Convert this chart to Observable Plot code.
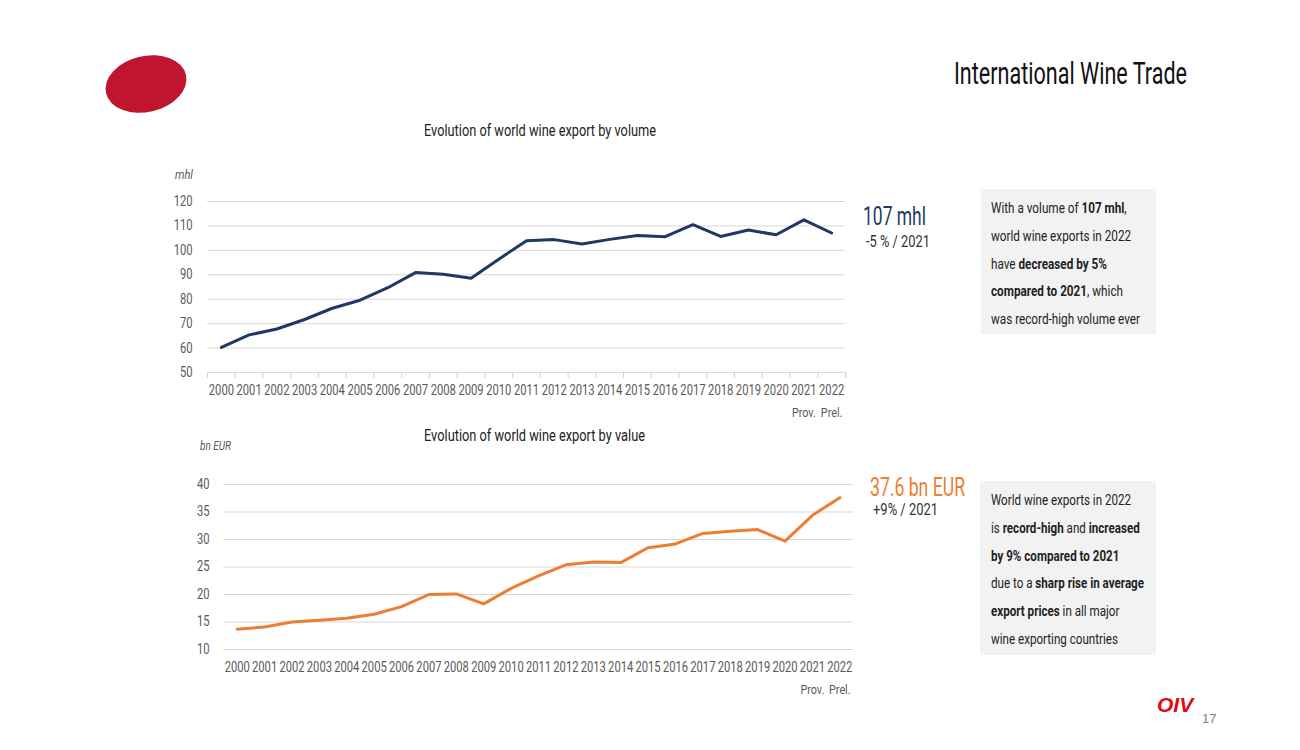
<!DOCTYPE html>
<html><head><meta charset="utf-8">
<script src="https://cdn.jsdelivr.net/npm/d3@7"></script>
<script src="https://cdn.jsdelivr.net/npm/@observablehq/plot@0.6"></script>
<style>
body{margin:0;width:1300px;height:750px;position:relative;background:#fff;overflow:hidden;
 font-family:Roboto,"Noto Sans",sans-serif;color:#222;}
.abs{position:absolute;white-space:nowrap;}
.fit{display:inline-block;transform-origin:left center;}
.unit{font-style:italic;color:#595959;}
.boxbg{position:absolute;background:#f2f2f2;}
.boxtxt{position:absolute;font-size:15px;line-height:27.75px;color:#222;white-space:nowrap;transform-origin:left top;}
.boxtxt b{font-weight:bold;}
#topchart,#botchart{position:absolute;left:0;}
</style></head><body>
<svg class="abs" style="left:0;top:0" width="220" height="140"><ellipse cx="146" cy="84" rx="41" ry="28" transform="rotate(-13 146 84)" fill="#c0152f"/></svg>
<div class="abs fit" data-w="233" style="left:954px;top:73px;font-size:31px;color:#111;">International Wine Trade</div>
<div class="abs fit" data-w="232" style="left:424px;top:130px;font-size:16px;">Evolution of world wine export by volume</div>
<div class="abs fit" data-w="221" style="left:424px;top:435px;font-size:16px;">Evolution of world wine export by value</div>
<div class="abs fit unit" data-w="18" style="left:175px;top:174px;font-size:13px;">mhl</div>
<div class="abs fit unit" data-w="31" style="left:200px;top:446px;font-size:12px;">bn EUR</div>
<div id="topchart" style="top:150px"></div>
<div id="botchart" style="top:460px"></div>
<div class="abs fit" data-w="63" style="left:863px;top:216px;font-size:26px;color:#1f3864;">107 mhl</div>
<div class="abs fit" data-w="64" style="left:866px;top:241px;font-size:16px;color:#333;">-5 % / 2021</div>
<div class="abs fit" data-w="95" style="left:870px;top:487px;font-size:26px;color:#ed7d31;">37.6 bn EUR</div>
<div class="abs fit" data-w="65" style="left:873px;top:509px;font-size:16px;color:#333;">+9% / 2021</div>
<div class="boxbg" style="left:981px;top:189px;width:175px;height:145px;"></div>
<div class="boxtxt" data-w="149" style="left:991px;top:195px;"><div>With a volume of <b>107 mhl</b>,</div><div>world wine exports in 2022</div><div>have <b>decreased by 5%</b></div><div><b>compared to 2021</b>, which</div><div>was record-high volume ever</div></div>
<div class="boxbg" style="left:980px;top:481px;width:176px;height:174px;"></div>
<div class="boxtxt" data-w="153" style="left:991px;top:487px;"><div>World wine exports in 2022</div><div>is <b>record-high</b> and <b>increased</b></div><div><b>by 9% compared to 2021</b></div><div>due to a <b>sharp rise in average</b></div><div><b>export prices</b> in all major</div><div>wine exporting countries</div></div>
<div class="abs" style="left:1157px;top:705px;transform:translateY(-50%);font-family:'Liberation Sans',sans-serif;font-weight:bold;font-style:italic;font-size:21px;color:#e30613;">OIV</div>
<div class="abs" style="left:1202px;top:718px;transform:translateY(-50%);font-family:'Liberation Sans',sans-serif;font-size:13px;color:#7f7f7f;">17</div>
<script>
const years = [2000,2001,2002,2003,2004,2005,2006,2007,2008,2009,2010,2011,2012,2013,2014,2015,2016,2017,2018,2019,2020,2021,2022];
const volume = [60.3,65.4,67.8,71.7,76.3,79.6,84.7,90.9,90.2,88.6,96.4,103.9,104.4,102.6,104.5,106.1,105.6,110.5,105.7,108.3,106.4,112.5,107.1];
const value = [13.7,14.1,15.0,15.3,15.7,16.4,17.8,20.0,20.1,18.3,21.1,23.4,25.4,25.9,25.8,28.5,29.2,31.1,31.5,31.8,29.7,34.4,37.6];
const volumeTicks = [50,60,70,80,90,100,110,120];
const valueTicks = [10,15,20,25,30,35,40];
const provYears = [2021,2022];
const provLabels = ["Prov.","Prel."];

const FONT = 'Roboto, "Noto Sans", sans-serif';
const NARROW = 0.8;
const boundaries = years.map(y => y - 0.5).concat([years[years.length-1] + 0.5]);
const xDomain = [years[0] - 0.5, years[years.length-1] + 0.5];

function chart({data, ticks, yDomain, color, width, height, ml, mr, mt, mb, yPad, withTicks}) {
  const rows = years.map((y, i) => ({year: y, v: data[i]}));
  const marks = [
    Plot.gridY(ticks, {stroke: "#d9d9d9", strokeOpacity: 1, strokeWidth: 1}),
    Plot.axisY(ticks, {tickSize: 0, tickPadding: yPad, label: null, fontSize: 14, tickFormat: d => String(d)}),
  ];
  if (withTicks) marks.push(Plot.axisX(boundaries, {tickSize: 6, tickFormat: () => "", stroke: "#d0d0d0", strokeOpacity: 1, label: null}));
  marks.push(
    Plot.axisX(years, {tickSize: 0, tickPadding: 13, tickFormat: d => String(d), label: null, fontSize: 14}),
    Plot.text(provYears, {x: d => d, y: () => yDomain[0], text: (d, i) => provLabels[i], dy: 40, fontSize: 13.5, fill: "#595959"}),
    Plot.line(rows, {x: "year", y: "v", stroke: color, strokeWidth: 3, strokeLinejoin: "round", strokeLinecap: "round"})
  );
  const svg = Plot.plot({
    width, height, marginLeft: ml, marginRight: mr, marginTop: mt, marginBottom: mb,
    style: {fontFamily: FONT, fontSize: "14px", color: "#595959", background: "transparent"},
    x: {domain: xDomain},
    y: {domain: yDomain},
    marks
  });
  // narrow the glyphs horizontally around each text's own anchor point
  svg.querySelectorAll("text").forEach(t => {
    let x = parseFloat(t.getAttribute("x"));
    if (!isFinite(x)) x = 0;
    const tr = t.getAttribute("transform") || "";
    t.setAttribute("transform", `${tr} translate(${x},0) scale(${NARROW},1) translate(${-x},0)`.trim());
  });
  return svg;
}

document.getElementById("topchart").append(chart({
  data: volume, ticks: volumeTicks, yDomain: [50, 120], color: "#1f3864",
  width: 870, height: 280, ml: 207, mr: 25, mt: 51, mb: 58, yPad: 15, withTicks: true
}));
document.getElementById("botchart").append(chart({
  data: value, ticks: valueTicks, yDomain: [10, 40], color: "#ed7d31",
  width: 870, height: 240, ml: 223, mr: 17, mt: 24, mb: 51, yPad: 14, withTicks: false
}));

// fit single-line labels to the reference widths
document.querySelectorAll(".fit").forEach(el => {
  const w = el.getBoundingClientRect().width;
  const k = (+el.dataset.w) / w;
  el.style.transform = `translateY(-50%) scaleX(${k})`;
});
document.querySelectorAll(".boxtxt").forEach(el => {
  let maxw = 0;
  el.querySelectorAll("div").forEach(d => {
    const r = document.createRange(); r.selectNodeContents(d);
    maxw = Math.max(maxw, r.getBoundingClientRect().width);
  });
  el.style.transform = `scaleX(${(+el.dataset.w) / maxw})`;
});
</script>
</body></html>
